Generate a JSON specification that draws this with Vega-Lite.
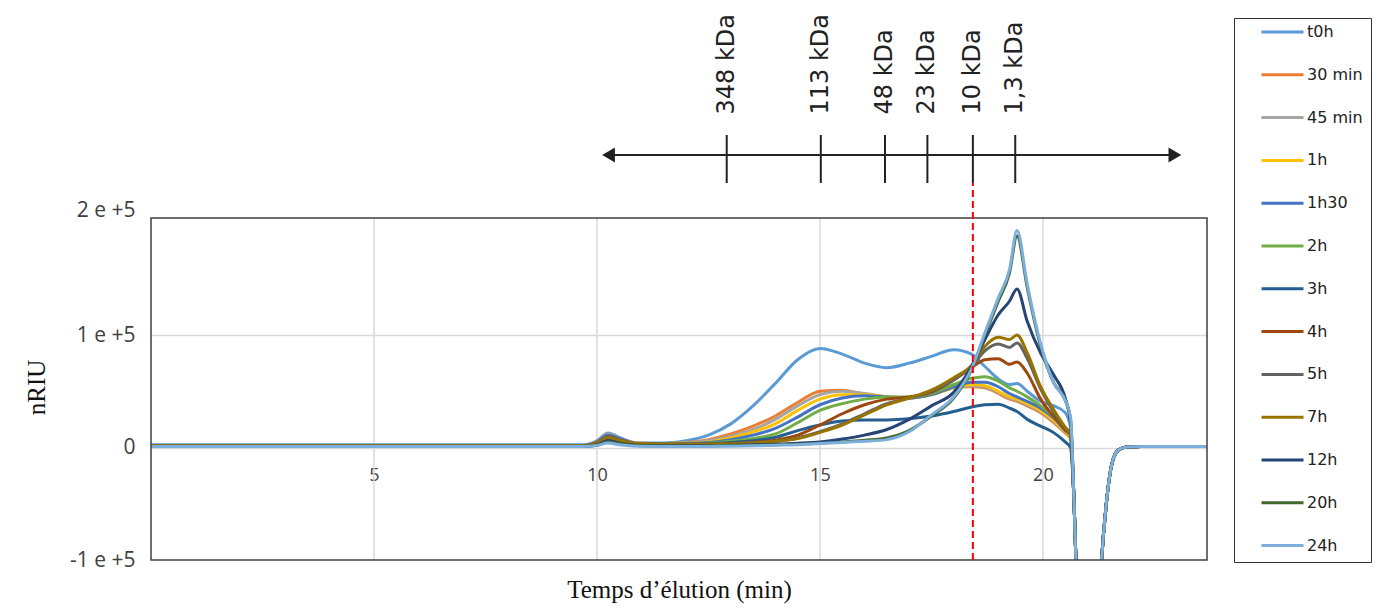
{
  "$schema": "https://vega.github.io/schema/vega-lite/v6.json",
  "width": 1056,
  "height": 555,
  "autosize": {"type": "none"},
  "padding": {"left": 151, "top": 5, "right": 182, "bottom": 56},
  "background": "white",
  "config": {"view": {"stroke": null}, "font": "Open Sans"},
  "datasets": {
    "traces": [
      {"t": 0, "t0h": 2500, "30 min": 1500, "45 min": 1500, "1h": 1500, "1h30": 1500, "2h": 1500, "3h": 1500, "4h": 1500, "5h": 1500, "7h": 1500, "12h": 1000, "20h": 1000, "24h": 800},
      {"t": 9.7, "t0h": 2500, "30 min": 1500, "45 min": 1500, "1h": 1500, "1h30": 1500, "2h": 1500, "3h": 1500, "4h": 1500, "5h": 1500, "7h": 1500, "12h": 1000, "20h": 1000, "24h": 800},
      {"t": 10.0, "t0h": 6000, "30 min": 5000, "45 min": 5500, "1h": 4500, "1h30": 5000, "2h": 4000, "3h": 3500, "4h": 4000, "5h": 4500, "7h": 4000, "12h": 2500, "20h": 2000, "24h": 1800},
      {"t": 10.25, "t0h": 13000, "30 min": 11000, "45 min": 12000, "1h": 10000, "1h30": 11000, "2h": 9000, "3h": 8000, "4h": 9000, "5h": 10000, "7h": 9000, "12h": 6000, "20h": 5000, "24h": 4000},
      {"t": 10.5, "t0h": 9000, "30 min": 8000, "45 min": 8500, "1h": 7000, "1h30": 8000, "2h": 6500, "3h": 6000, "4h": 6500, "5h": 7000, "7h": 6500, "12h": 4000, "20h": 3500, "24h": 2500},
      {"t": 10.9, "t0h": 4000, "30 min": 4000, "45 min": 4000, "1h": 3500, "1h30": 3500, "2h": 3500, "3h": 3000, "4h": 3500, "5h": 3500, "7h": 3500, "12h": 2000, "20h": 1800, "24h": 1200},
      {"t": 11.5, "t0h": 4000, "30 min": 3500, "45 min": 3500, "1h": 3200, "1h30": 3200, "2h": 3000, "3h": 2800, "4h": 3000, "5h": 3000, "7h": 3000, "12h": 1500, "20h": 1300, "24h": 900},
      {"t": 12.0, "t0h": 6000, "30 min": 4500, "45 min": 4200, "1h": 3800, "1h30": 3600, "2h": 3300, "3h": 3000, "4h": 3000, "5h": 3000, "7h": 3000, "12h": 1500, "20h": 1300, "24h": 900},
      {"t": 12.5, "t0h": 11000, "30 min": 7000, "45 min": 6000, "1h": 5000, "1h30": 4500, "2h": 4000, "3h": 3500, "4h": 3000, "5h": 3000, "7h": 3000, "12h": 1500, "20h": 1500, "24h": 1000},
      {"t": 13.0, "t0h": 21000, "30 min": 12000, "45 min": 10000, "1h": 8500, "1h30": 7000, "2h": 5500, "3h": 4500, "4h": 3500, "5h": 3200, "7h": 3200, "12h": 2000, "20h": 1800, "24h": 1200},
      {"t": 13.5, "t0h": 37000, "30 min": 19000, "45 min": 16000, "1h": 14000, "1h30": 11000, "2h": 8000, "3h": 6000, "4h": 4500, "5h": 4000, "7h": 4000, "12h": 2500, "20h": 2000, "24h": 1500},
      {"t": 14.0, "t0h": 57000, "30 min": 28000, "45 min": 25000, "1h": 21000, "1h30": 17000, "2h": 12000, "3h": 9000, "4h": 6500, "5h": 5500, "7h": 5500, "12h": 3000, "20h": 2500, "24h": 2000},
      {"t": 14.5, "t0h": 78000, "30 min": 40000, "45 min": 37000, "1h": 33000, "1h30": 27000, "2h": 22000, "3h": 15000, "4h": 11000, "5h": 8500, "7h": 8000, "12h": 3800, "20h": 3000, "24h": 2500},
      {"t": 15.0, "t0h": 88000, "30 min": 50000, "45 min": 47000, "1h": 43000, "1h30": 38000, "2h": 33000, "3h": 20000, "4h": 20000, "5h": 14000, "7h": 13500, "12h": 5000, "20h": 3800, "24h": 3500},
      {"t": 15.5, "t0h": 83000, "30 min": 51000, "45 min": 50000, "1h": 47000, "1h30": 44000, "2h": 39000, "3h": 23500, "4h": 30000, "5h": 21000, "7h": 20000, "12h": 7500, "20h": 5000, "24h": 4500},
      {"t": 16.0, "t0h": 75000, "30 min": 47000, "45 min": 48000, "1h": 47000, "1h30": 46000, "2h": 43000, "3h": 24500, "4h": 38000, "5h": 30000, "7h": 29000, "12h": 11000, "20h": 6500, "24h": 5500},
      {"t": 16.5, "t0h": 71000, "30 min": 45000, "45 min": 45000, "1h": 45000, "1h30": 45000, "2h": 45000, "3h": 24500, "4h": 43000, "5h": 39000, "7h": 38000, "12h": 16000, "20h": 8500, "24h": 7000},
      {"t": 17.0, "t0h": 75000, "30 min": 44000, "45 min": 44000, "1h": 44000, "1h30": 44000, "2h": 45000, "3h": 25500, "4h": 45000, "5h": 44000, "7h": 44000, "12h": 25000, "20h": 15000, "24h": 14000},
      {"t": 17.5, "t0h": 81000, "30 min": 47000, "45 min": 47000, "1h": 47000, "1h30": 47000, "2h": 48000, "3h": 28000, "4h": 49000, "5h": 50000, "7h": 51000, "12h": 37000, "20h": 28000, "24h": 29000},
      {"t": 18.0, "t0h": 87000, "30 min": 53000, "45 min": 53000, "1h": 53000, "1h30": 54000, "2h": 56000, "3h": 32000, "4h": 60000, "5h": 60000, "7h": 62000, "12h": 49000, "20h": 44000, "24h": 45000},
      {"t": 18.4, "t0h": 83000, "30 min": 54000, "45 min": 55000, "1h": 56000, "1h30": 58000, "2h": 61500, "3h": 36000, "4h": 71000, "5h": 72000, "7h": 73000, "12h": 72000, "20h": 69000, "24h": 70000},
      {"t": 18.7, "t0h": 72000, "30 min": 53000, "45 min": 54000, "1h": 55000, "1h30": 58000, "2h": 63000, "3h": 38000, "4h": 78000, "5h": 86000, "7h": 90000, "12h": 96000, "20h": 100000, "24h": 102000},
      {"t": 19.0, "t0h": 61000, "30 min": 48000, "45 min": 49000, "1h": 50000, "1h30": 54000, "2h": 59000, "3h": 38500, "4h": 79000, "5h": 92000, "7h": 98000, "12h": 118000, "20h": 130000, "24h": 133000},
      {"t": 19.25, "t0h": 56000, "30 min": 43000, "45 min": 44000, "1h": 45000, "1h30": 48000, "2h": 53000, "3h": 35000, "4h": 74000, "5h": 89000, "7h": 96000, "12h": 130000, "20h": 155000, "24h": 158000},
      {"t": 19.42, "t0h": 57000, "30 min": 41000, "45 min": 42000, "1h": 43000, "1h30": 45000, "2h": 50000, "3h": 32000, "4h": 76000, "5h": 93000, "7h": 100000, "12h": 141000, "20h": 188000, "24h": 193000},
      {"t": 19.65, "t0h": 50000, "30 min": 37000, "45 min": 38000, "1h": 39000, "1h30": 41000, "2h": 45000, "3h": 25000, "4h": 66000, "5h": 79000, "7h": 84000, "12h": 112000, "20h": 142000, "24h": 145000},
      {"t": 19.95, "t0h": 41000, "30 min": 31000, "45 min": 32000, "1h": 33000, "1h30": 35000, "2h": 37000, "3h": 19000, "4h": 43000, "5h": 52000, "7h": 54000, "12h": 84000, "20h": 90000, "24h": 92000},
      {"t": 20.25, "t0h": 37000, "30 min": 22000, "45 min": 23000, "1h": 24000, "1h30": 26000, "2h": 27000, "3h": 13000, "4h": 27000, "5h": 31000, "7h": 33000, "12h": 64000, "20h": 57000, "24h": 57000},
      {"t": 20.5, "t0h": 31000, "30 min": 13000, "45 min": 14000, "1h": 14000, "1h30": 15000, "2h": 16000, "3h": 5000, "4h": 16000, "5h": 17000, "7h": 18000, "12h": 44000, "20h": 42000, "24h": 42000},
      {"t": 20.62, "t0h": 18000, "30 min": 8000, "45 min": 9000, "1h": 9000, "1h30": 10000, "2h": 10000, "3h": 0, "4h": 11000, "5h": 12000, "7h": 12000, "12h": 22000, "20h": 25000, "24h": 27000},
      {"t": 20.7, "t0h": -50000, "30 min": -50000, "45 min": -50000, "1h": -50000, "1h30": -50000, "2h": -50000, "3h": -50000, "4h": -50000, "5h": -50000, "7h": -50000, "12h": -50000, "20h": -50000, "24h": -50000},
      {"t": 20.78, "t0h": -150000, "30 min": -150000, "45 min": -150000, "1h": -150000, "1h30": -150000, "2h": -150000, "3h": -150000, "4h": -150000, "5h": -150000, "7h": -150000, "12h": -150000, "20h": -150000, "24h": -150000},
      {"t": 20.9, "t0h": -300000, "30 min": -300000, "45 min": -300000, "1h": -300000, "1h30": -300000, "2h": -300000, "3h": -300000, "4h": -300000, "5h": -300000, "7h": -300000, "12h": -300000, "20h": -300000, "24h": -300000},
      {"t": 21.1, "t0h": -300000, "30 min": -300000, "45 min": -300000, "1h": -300000, "1h30": -300000, "2h": -300000, "3h": -300000, "4h": -300000, "5h": -300000, "7h": -300000, "12h": -300000, "20h": -300000, "24h": -300000},
      {"t": 21.3, "t0h": -110000, "30 min": -110000, "45 min": -110000, "1h": -110000, "1h30": -110000, "2h": -110000, "3h": -110000, "4h": -110000, "5h": -110000, "7h": -110000, "12h": -110000, "20h": -110000, "24h": -110000},
      {"t": 21.43, "t0h": -47000, "30 min": -47000, "45 min": -47000, "1h": -47000, "1h30": -47000, "2h": -47000, "3h": -47000, "4h": -47000, "5h": -47000, "7h": -47000, "12h": -47000, "20h": -47000, "24h": -47000},
      {"t": 21.55, "t0h": -14000, "30 min": -14000, "45 min": -14000, "1h": -14000, "1h30": -14000, "2h": -14000, "3h": -14000, "4h": -14000, "5h": -14000, "7h": -14000, "12h": -14000, "20h": -14000, "24h": -14000},
      {"t": 21.7, "t0h": -2000, "30 min": -2000, "45 min": -2000, "1h": -2000, "1h30": -2000, "2h": -2000, "3h": -2000, "4h": -2000, "5h": -2000, "7h": -2000, "12h": -2000, "20h": -2000, "24h": -2000},
      {"t": 21.88, "t0h": 500, "30 min": 500, "45 min": 500, "1h": 500, "1h30": 500, "2h": 500, "3h": 500, "4h": 500, "5h": 500, "7h": 500, "12h": 500, "20h": 500, "24h": 500},
      {"t": 22.2, "t0h": 1000, "30 min": 1000, "45 min": 1000, "1h": 1000, "1h30": 1000, "2h": 1000, "3h": 1000, "4h": 1000, "5h": 1000, "7h": 1000, "12h": 1000, "20h": 1000, "24h": 1000},
      {"t": 23.68, "t0h": 1000, "30 min": 1000, "45 min": 1000, "1h": 1000, "1h30": 1000, "2h": 1000, "3h": 1000, "4h": 1000, "5h": 1000, "7h": 1000, "12h": 1000, "20h": 1000, "24h": 1000}
    ],
    "grid": [{"t": 5}, {"t": 10}, {"t": 15}, {"t": 20}],
    "standards": [
      {"label": "348 kDa", "t": 12.91},
      {"label": "113 kDa", "t": 15.02},
      {"label": "48 kDa", "t": 16.46},
      {"label": "23 kDa", "t": 17.41},
      {"label": "10 kDa", "t": 18.43},
      {"label": "1,3 kDa", "t": 19.38}
    ],
    "spans": [
      {"part": "frame", "t": 0, "t2": 23.68},
      {"part": "arrow", "t": 10.24, "t2": 22.98}
    ],
    "arrows": [{"t": 10.26, "dir": "left"}, {"t": 22.96, "dir": "right"}]
  },
  "encoding": {
    "x": {
      "field": "t",
      "type": "quantitative",
      "scale": {"domain": [0, 23.68], "nice": false, "zero": false},
      "axis": {
        "values": [5, 10, 15, 20],
        "grid": false,
        "domain": false,
        "ticks": false,
        "tickSize": 0,
        "offset": -112.5,
        "labelPadding": 19,
        "labelFont": "Open Sans",
        "labelFontSize": 18,
        "labelColor": "#404040",
        "title": "Temps d’élution (min)",
        "titleFont": "Liberation Serif",
        "titleFontSize": 25,
        "titleFontWeight": "normal",
        "titleColor": "#111111",
        "titleY": 142,
        "titleBaseline": "middle"
      }
    }
  },
  "layer": [
    {
      "data": {"name": "grid"},
      "mark": {"type": "rule", "color": "#D9D9D9", "strokeWidth": 1.5},
      "encoding": {"y": {"datum": -100000}, "y2": {"datum": 204000}}
    },
    {
      "data": {"name": "traces"},
      "transform": [
        {"fold": ["t0h", "30 min", "45 min", "1h", "1h30", "2h", "3h", "4h", "5h", "7h", "12h", "20h", "24h"], "as": ["serie", "nRIU"]}
      ],
      "mark": {"type": "line", "interpolate": "monotone", "strokeWidth": 3, "clip": true},
      "encoding": {
        "y": {
          "field": "nRIU",
          "type": "quantitative",
          "scale": {"domain": [-100000, 393340], "nice": false, "zero": false},
          "axis": {
            "values": [-100000, 0, 100000, 200000],
            "labelExpr": "datum.value == 0 ? '0' : (datum.value / 100000) + ' e +5'",
            "domain": false,
            "ticks": false,
            "grid": true,
            "gridColor": "#D9D9D9",
            "gridWidth": 1.5,
            "gridOpacity": {"condition": {"test": "datum.value == 200000 || datum.value == -100000", "value": 0}, "value": 1},
            "labelOffset": {"condition": {"test": "datum.value == 200000", "value": -12}, "value": 0},
            "labelFont": "Open Sans",
            "labelFontSize": 21,
            "labelColor": "#404040",
            "labelPadding": 16,
            "title": "nRIU",
            "titleFont": "Liberation Serif",
            "titleFontSize": 25,
            "titleFontWeight": "normal",
            "titleColor": "#111111",
            "titleAngle": 270,
            "titleX": -115,
            "titleY": 382,
            "titleAlign": "center",
            "titleBaseline": "middle"
          }
        },
        "color": {
          "field": "serie",
          "type": "nominal",
          "sort": ["t0h", "30 min", "45 min", "1h", "1h30", "2h", "3h", "4h", "5h", "7h", "12h", "20h", "24h"],
          "scale": {
            "domain": ["t0h", "30 min", "45 min", "1h", "1h30", "2h", "3h", "4h", "5h", "7h", "12h", "20h", "24h"],
            "range": ["#5B9BD5", "#ED7D31", "#A5A5A5", "#FFC000", "#4472C4", "#70AD47", "#255E91", "#9E480E", "#636363", "#997300", "#264478", "#43682B", "#7CAFDD"]
          },
          "legend": {
            "orient": "none",
            "direction": "vertical",
            "columns": 1,
            "legendX": 1083,
            "legendY": 13,
            "title": null,
            "symbolType": "stroke",
            "symbolSize": 1764,
            "symbolStrokeWidth": 3,
            "clipHeight": 12,
            "rowPadding": 26.8,
            "padding": 8,
            "symbolOffset": 18,
            "labelOffset": 2,
            "labelFont": "DejaVu Sans",
            "labelFontSize": 16,
            "labelColor": "#222222",
            "strokeColor": "#333333",
            "fillColor": "white"
          }
        }
      }
    },
    {
      "data": {"name": "spans"},
      "transform": [{"filter": "datum.part == 'frame'"}],
      "mark": {"type": "rect", "fillOpacity": 0, "stroke": "#404040", "strokeWidth": 1.5},
      "encoding": {"x2": {"field": "t2"}, "y": {"datum": -100000}, "y2": {"datum": 204000}}
    },
    {
      "data": {"name": "standards"},
      "transform": [{"filter": "datum.label == '10 kDa'"}],
      "mark": {"type": "rule", "color": "#FF0000", "strokeWidth": 2, "strokeDash": [7, 4]},
      "encoding": {"y": {"datum": -100000}, "y2": {"datum": 235100}}
    },
    {
      "data": {"name": "spans"},
      "transform": [{"filter": "datum.part == 'arrow'"}],
      "mark": {"type": "rule", "color": "#222222", "strokeWidth": 2},
      "encoding": {"x2": {"field": "t2"}, "y": {"datum": 260000}}
    },
    {
      "data": {"name": "arrows"},
      "mark": {"type": "point", "filled": true, "size": 220, "color": "#222222", "opacity": 1},
      "encoding": {
        "y": {"datum": 260000},
        "shape": {"field": "dir", "type": "nominal", "scale": {"domain": ["left", "right"], "range": ["triangle-left", "triangle-right"]}, "legend": null}
      }
    },
    {
      "data": {"name": "standards"},
      "mark": {"type": "rule", "color": "#222222", "strokeWidth": 2},
      "encoding": {"y": {"datum": 235100}, "y2": {"datum": 277800}}
    },
    {
      "data": {"name": "standards"},
      "mark": {"type": "text", "angle": 270, "align": "left", "baseline": "middle", "font": "DejaVu Sans", "fontSize": 24, "color": "#222222"},
      "encoding": {"y": {"datum": 296000}, "text": {"field": "label"}}
    }
  ]
}
